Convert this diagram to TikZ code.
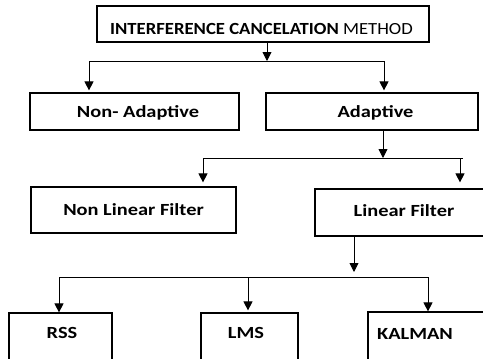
\documentclass[tikz,border=0pt]{standalone}
\usepackage{fontspec}
\setmainfont{Carlito}
\newfontfamily\lblfont[FakeStretch=1.2]{Carlito}
\newfontfamily\ttlfont[FakeStretch=1.1]{Carlito}
\usetikzlibrary{arrows.meta}
\tikzset{
  box/.style={draw=black, line width=1.2pt, rectangle, inner sep=0pt},
  lbl/.style={inner sep=0pt, anchor=base, font=\lblfont\bfseries\fontsize{17}{17}\selectfont},
  ttl/.style={inner sep=0pt, anchor=base, font=\ttlfont\bfseries\fontsize{17}{17}\selectfont},
  conn/.style={draw=black, line width=0.9pt},
  arr/.style={conn, -{Triangle[width=9pt,length=9pt]}},
}
\begin{document}
\begin{tikzpicture}[x=1pt,y=-1pt]
\useasboundingbox (0,0) rectangle (483,359);
\clip (0,0) rectangle (483,359);
% boxes
\node[box, minimum width=332pt, minimum height=36pt] (top) at (263,24) {};
\node[box, minimum width=209pt, minimum height=37pt] (nonad) at (134.5,111.5) {};
\node[box, minimum width=212pt, minimum height=37pt] (adap) at (372,111.5) {};
\node[box, minimum width=205pt, minimum height=46pt] (nlf) at (133.5,210) {};
\node[box, minimum width=178pt, minimum height=47pt] (lf) at (404,212.5) {};
\node[box, minimum width=103pt, minimum height=70pt] (rss) at (60.5,348) {};
\node[box, minimum width=97pt, minimum height=70pt] (lms) at (249.5,348) {};
\node[box, minimum width=132pt, minimum height=70pt] (kal) at (434,347) {};
% texts
\node[ttl] (ttop) at (261.5,34) {INTERFERENCE CANCELATION \mdseries METHOD};
\node[lbl] (tnonad) at (138,117) {Non- Adaptive};
\node[lbl] (tadap) at (375.5,117) {Adaptive};
\node[lbl] (tnlf) at (133.5,215) {Non Linear Filter};
\node[lbl] (tlf) at (404,216) {Linear Filter};
\node[lbl] (trss) at (62,338) {RSS};
\node[lbl] (tlms) at (246,338) {LMS};
\node[lbl] (tkal) at (415,339) {KALMAN};
% junction coordinates
\coordinate (j1) at (267,61);
\coordinate (j1l) at (89,61);
\coordinate (j1r) at (384,61);
\coordinate (j2) at (383,158);
\coordinate (j2l) at (203,158);
\coordinate (j2r) at (463,158);
\coordinate (j2a) at (460,158);
\coordinate (j3) at (354,277);
\coordinate (j3l) at (59,277);
\coordinate (j3m) at (248,277);
\coordinate (j3r) at (428,277);
% level 1
\draw[arr] (top.south -| j1) -- (j1);
\draw[conn] (j1l) -- (j1r);
\draw[arr, shorten >=2pt] (j1l) -- (nonad.north -| j1l);
\draw[arr, shorten >=2pt] (j1r) -- (adap.north -| j1r);
% level 2
\draw[arr] (adap.south -| j2) -- (j2);
\draw[conn] (j2l) -- (j2r);
\draw[arr, shorten >=4pt] (j2l) -- (nlf.north -| j2l);
\draw[arr, shorten >=6pt] (j2a) -- (lf.north -| j2a);
% level 3
\draw[arr, shorten >=5pt] (lf.south -| j3) -- (j3);
\draw[conn] (j3l) -- (j3r);
\draw[arr] (j3l) -- (rss.north -| j3l);
\draw[arr, shorten >=2pt] (j3m) -- (lms.north -| j3m);
\draw[arr] (j3r) -- (kal.north -| j3r);
\end{tikzpicture}
\end{document}
